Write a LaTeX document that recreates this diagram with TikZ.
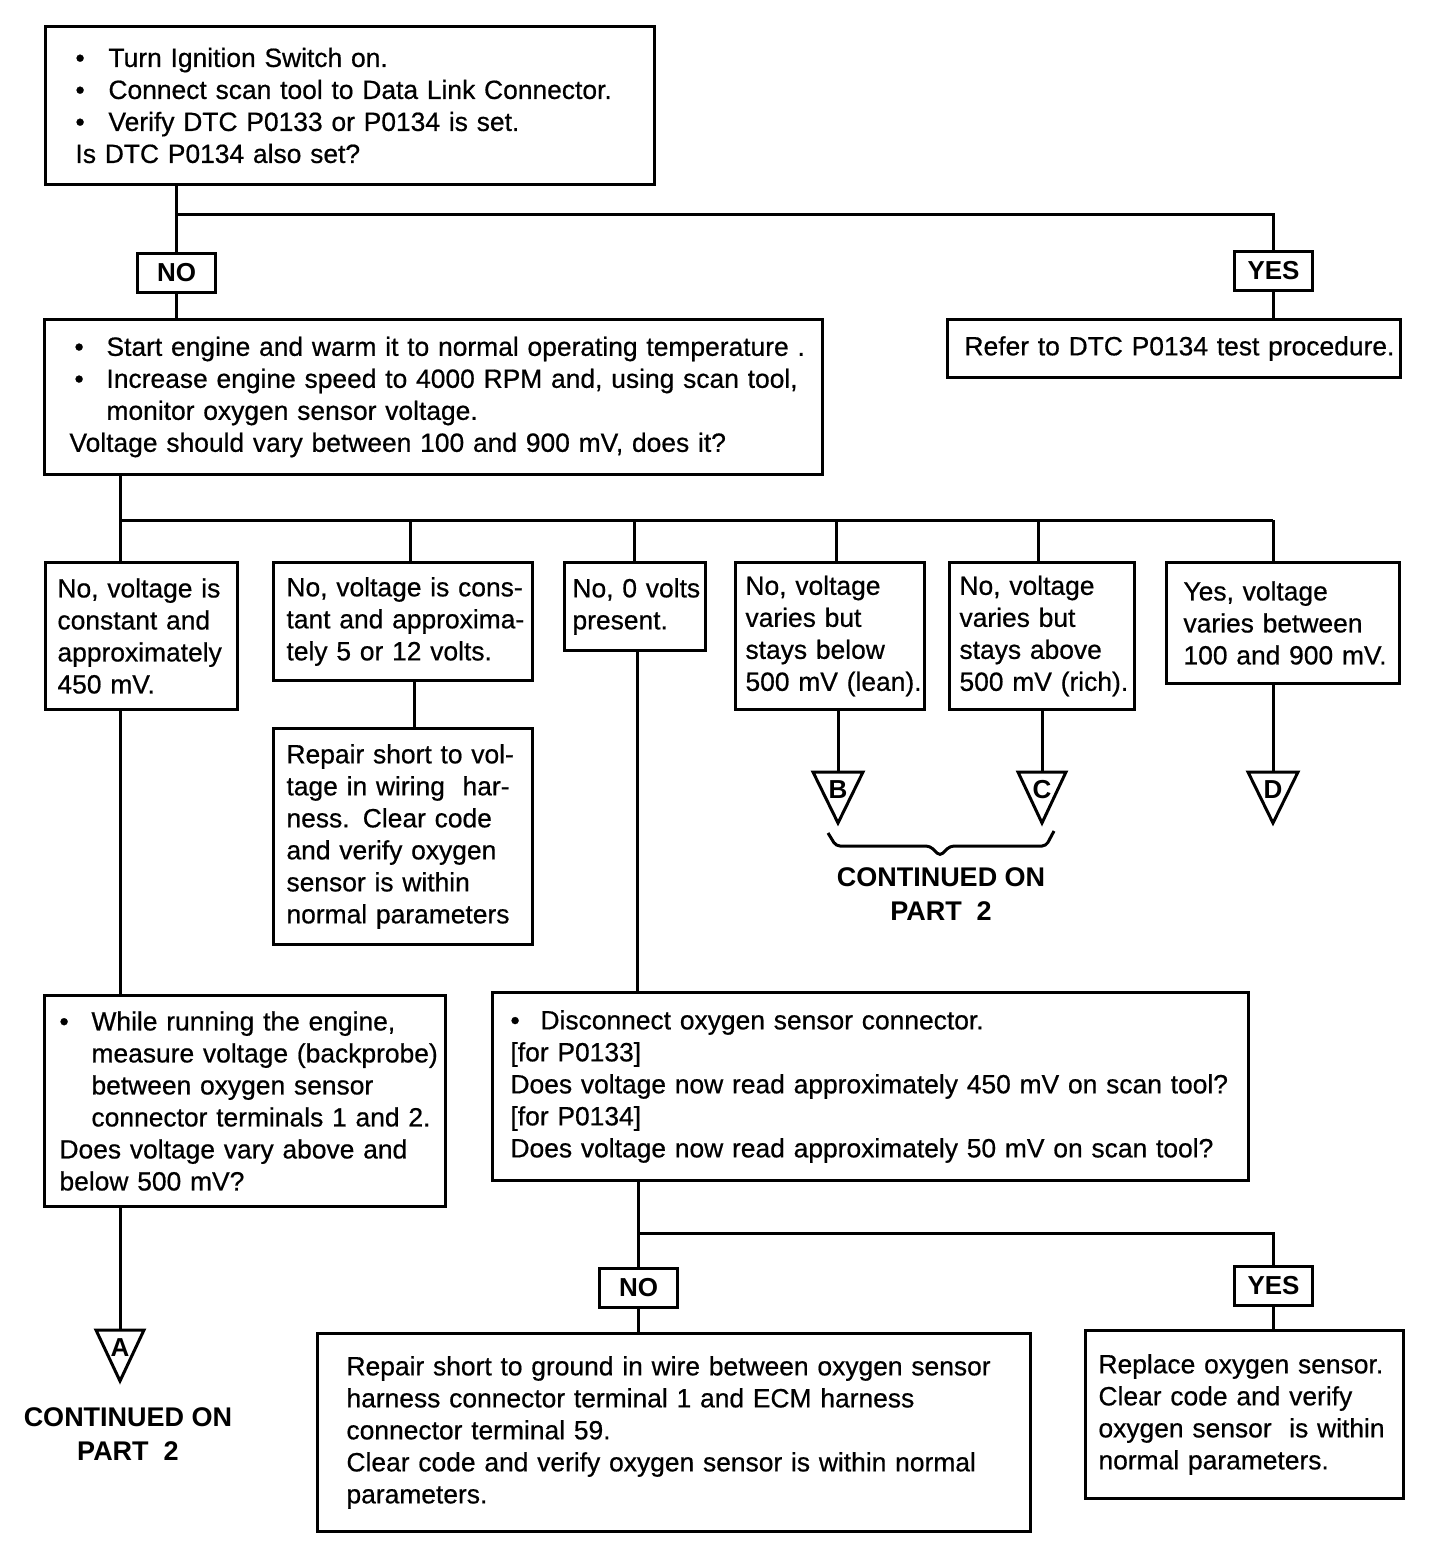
\documentclass[tikz,border=0pt]{standalone}
\usepackage{fontspec}
\setmainfont{Liberation Sans}
\newfontfamily\heavy{Liberation Sans}[FakeBold=0.6]
\usetikzlibrary{calc}
\newcommand\bl[2]{\hspace*{#1}\makebox[#2][l]{\textbullet}}
\newcommand\Ln[1]{\mbox{#1}}
\begin{document}
\begin{tikzpicture}[x=1pt,y=-1pt,
 box/.style={draw, line width=3pt, anchor=north west, align=left, inner ysep=0pt, font=\heavy\fontsize{26.4}{32}\selectfont},
 lbl/.style={draw, line width=3pt, anchor=north west, inner sep=0pt, font=\bfseries\fontsize{26}{30}\selectfont, minimum width=78pt, minimum height=39pt},
 conn/.style={line width=3pt},
 tri/.style={line width=3pt, line join=miter},
 tlet/.style={inner sep=0pt, font=\bfseries\fontsize{26}{28}\selectfont},
 cont/.style={inner sep=0pt, align=center, font=\bfseries\fontsize{27}{34}\selectfont},
]
\useasboundingbox (0,0) rectangle (1456,1564);

% boxes
\node[box, minimum width=609pt, minimum height=158pt, inner xsep=30pt, text width=549pt] (top) at (44,25) {%
\Ln{\bl{0pt}{33pt}Turn Ignition Switch on.}\\
\Ln{\bl{0pt}{33pt}Connect scan tool to Data Link Connector.}\\
\Ln{\bl{0pt}{33pt}Verify DTC P0133 or P0134 is set.}\\
\Ln{Is DTC P0134 also set?}};

\node[lbl] (no1) at (136,252) {NO};
\node[lbl] (yes1) at (1233,250) {YES};

\node[box, minimum width=453pt, minimum height=58pt, inner xsep=17pt, text width=419pt] (refer) at (946,318) {%
\Ln{Refer to DTC P0134 test procedure.}};

\node[box, minimum width=778pt, minimum height=155pt, inner xsep=25pt, text width=728pt] (box2) at (43,318) {%
\Ln{\bl{5pt}{32pt}Start engine and warm it to normal operating temperature .}\\
\Ln{\bl{5pt}{32pt}Increase engine speed to 4000 RPM and, using scan tool,}\\
\Ln{\hspace*{37pt}monitor oxygen sensor voltage.}\\
\Ln{Voltage should vary between 100 and 900 mV, does it?}};

\node[box, minimum width=192pt, minimum height=147pt, inner xsep=12pt, text width=168pt] (b1) at (44,561) {%
\Ln{No, voltage is}\\ \Ln{constant and}\\ \Ln{approximately}\\ \Ln{450 mV.}};
\node[box, minimum width=259pt, minimum height=118pt, inner xsep=13pt, text width=233pt] (b2) at (272,561) {%
\Ln{No, voltage is cons-}\\ \Ln{tant and approxima-}\\ \Ln{tely 5 or 12 volts.}};
\node[box, minimum width=141pt, minimum height=88pt, inner xsep=8pt, text width=125pt] (b3) at (563,561) {%
\Ln{No, 0 volts}\\ \Ln{present.}};
\node[box, minimum width=189pt, minimum height=147pt, inner xsep=10pt, text width=169pt] (b4) at (734,561) {%
\Ln{No, voltage}\\ \Ln{varies but}\\ \Ln{stays below}\\ \Ln{500 mV (lean).}};
\node[box, minimum width=185pt, minimum height=147pt, inner xsep=10pt, text width=165pt] (b5) at (948,561) {%
\Ln{No, voltage}\\ \Ln{varies but}\\ \Ln{stays above}\\ \Ln{500 mV (rich).}};
\node[box, minimum width=233pt, minimum height=121pt, inner xsep=17pt, text width=199pt] (b6) at (1165,561) {%
\Ln{Yes, voltage}\\ \Ln{varies between}\\ \Ln{100 and 900 mV.}};

\node[box, minimum width=259pt, minimum height=216pt, inner xsep=13pt, text width=233pt] (rep1) at (272,727) {%
\Ln{Repair short to vol-}\\ \Ln{tage in wiring\ \ har-}\\ \Ln{ness. Clear code}\\ \Ln{and verify oxygen}\\ \Ln{sensor is within}\\ \Ln{normal parameters}};

\node[box, minimum width=401pt, minimum height=211pt, inner xsep=15pt, text width=371pt] (boxA) at (43,994) {%
\Ln{\bl{0pt}{32pt}While running the engine,}\\
\Ln{\hspace*{32pt}measure voltage (backprobe)}\\
\Ln{\hspace*{32pt}between oxygen sensor}\\
\Ln{\hspace*{32pt}connector terminals 1 and 2.}\\
\Ln{Does voltage vary above and}\\
\Ln{below 500 mV?}};

\node[box, minimum width=756pt, minimum height=188pt, inner xsep=18pt, text width=720pt] (disc) at (491,991) {%
\Ln{\bl{0pt}{30pt}Disconnect oxygen sensor connector.}\\
\Ln{[for P0133]}\\
\Ln{Does voltage now read approximately 450 mV on scan tool?}\\
\Ln{[for P0134]}\\
\Ln{Does voltage now read approximately 50 mV on scan tool?}};

\node[lbl] (no2) at (598,1267) {NO};
\node[lbl] (yes2) at (1233,1265) {YES};

\node[box, minimum width=713pt, minimum height=198pt, inner xsep=29pt, text width=655pt] (rep2) at (316,1332) {%
\Ln{Repair short to ground in wire between oxygen sensor}\\
\Ln{harness connector terminal 1 and ECM harness}\\
\Ln{connector terminal 59.}\\
\Ln{Clear code and verify oxygen sensor is within normal}\\
\Ln{parameters.}};

\node[box, minimum width=318pt, minimum height=168pt, inner xsep=13pt, text width=292pt] (rep3) at (1084,1329) {%
\Ln{Replace oxygen sensor.}\\
\Ln{Clear code and verify}\\
\Ln{oxygen sensor\ \ is within}\\
\Ln{normal parameters.}};

% coordinates
\coordinate (bus1) at (175,214);
\coordinate (k1) at (120,520);
\coordinate (k2) at (410,520);
\coordinate (k3) at (634,520);
\coordinate (k4) at (836,520);
\coordinate (k5) at (1038,520);
\coordinate (k6) at (1273,520);
\coordinate (d2) at (414,700);
\coordinate (d3) at (637,800);
\coordinate (bus3) at (637,1233);
\coordinate (tA) at (120,1330);
\coordinate (tB) at (838,772);
\coordinate (tC) at (1042,772);
\coordinate (tD) at (1273,772);

% connectors
\draw[conn] (top.south -| no1.north) -- (no1.north);
\draw[conn] (bus1) -| (yes1.north);
\draw[conn] (no1.south) -- (no1.south |- box2.north);
\draw[conn] (yes1.south) -- (yes1.south |- refer.north);

\draw[conn] (k1 |- box2.south) -- (k1) -- (k6);
\draw[conn] (k1) -- (k1 |- b1.north);
\draw[conn] (k2) -- (k2 |- b2.north);
\draw[conn] (k3) -- (k3 |- b3.north);
\draw[conn] (k4) -- (k4 |- b4.north);
\draw[conn] (k5) -- (k5 |- b5.north);
\draw[conn] (k6) -- (k6 |- b6.north);

\draw[conn] (k1 |- b1.south) -- (k1 |- boxA.north);
\draw[conn] (d2 |- b2.south) -- (d2 |- rep1.north);
\draw[conn] (d3 |- b3.south) -- (d3 |- disc.north);
\draw[conn] (tB |- b4.south) -- (tB);
\draw[conn] (tC |- b5.south) -- (tC);
\draw[conn] (tD |- b6.south) -- (tD);
\draw[conn] (tA |- boxA.south) -- (tA);

\draw[conn] (no2.north |- disc.south) -- (no2.north);
\draw[conn] (bus3) -| (yes2.north);
\draw[conn] (no2.south) -- (no2.south |- rep2.north);
\draw[conn] (yes2.south) -- (yes2.south |- rep3.north);

% triangles
\foreach \t/\w in {tA/24,tB/25,tC/24,tD/25}{
  \draw[tri] ($(\t)+(-\w,0)$) -- ($(\t)+(\w,0)$) -- ($(\t)+(0,51)$) -- cycle;
}
\node[tlet] (lA) at ($(tA)+(0,18)$) {A};
\node[tlet] (lB) at ($(tB)+(0,18)$) {B};
\node[tlet] (lC) at ($(tC)+(0,18)$) {C};
\node[tlet] (lD) at ($(tD)+(0,18)$) {D};

% brace
\draw[line width=3pt, rounded corners=4pt] (828,833) -- (836,846) -- (930,846) -- (940,856) -- (950,846) -- (1046,846) -- (1054,831);

\node[cont] (contBC) at (941,894) {CONTINUED ON\\PART\ \ 2};
\node[cont] (contA) at (128,1434) {CONTINUED ON\\PART\ \ 2};
\end{tikzpicture}
\end{document}
